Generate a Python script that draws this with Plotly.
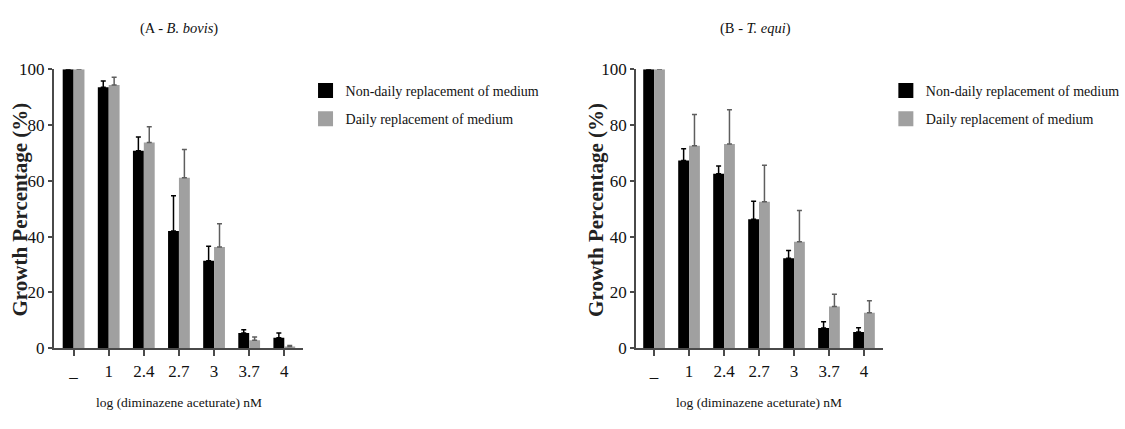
import plotly.graph_objects as go

W, H = 1125, 429

categories = ["_", "1", "2.4", "2.7", "3", "3.7", "4"]

# Panel A - B. bovis
a_nondaily = [100, 93.5, 70.8, 42.0, 31.4, 5.5, 3.8]
a_nondaily_err = [0, 2.3, 4.9, 12.7, 5.2, 1.1, 1.7]
a_daily = [100, 94.3, 73.7, 61.1, 36.3, 2.9, 0.6]
a_daily_err = [0, 2.8, 5.7, 10.1, 8.3, 1.1, 0.4]

# Panel B - T. equi
b_nondaily = [100, 67.3, 62.5, 46.2, 32.3, 7.3, 5.8]
b_nondaily_err = [0, 4.2, 2.8, 6.5, 2.7, 2.2, 1.6]
b_daily = [100, 72.6, 73.2, 52.5, 38.2, 15.0, 12.7]
b_daily_err = [0, 11.2, 12.3, 13.1, 11.2, 4.4, 4.3]

series_names = ["Non-daily replacement of medium", "Daily replacement of medium"]
colors = ["#000000", "#a0a0a0"]
err_colors = ["#000000", "#5e5e5e"]

FONT = "Liberation Serif"


def px_x(p):
    return p / W


def px_y(p):
    return 1 - p / H


fig = go.Figure()

panels = [
    ("x", "y", [a_nondaily, a_daily], [a_nondaily_err, a_daily_err]),
    ("x2", "y2", [b_nondaily, b_daily], [b_nondaily_err, b_daily_err]),
]
for xa, ya, vals, errs in panels:
    for k in range(2):
        fig.add_trace(go.Bar(
            x=categories, y=vals[k], xaxis=xa, yaxis=ya,
            marker=dict(color=colors[k], line=dict(width=0)),
            error_y=dict(type="data", symmetric=False, array=errs[k],
                         arrayminus=[0] * len(errs[k]),
                         color=err_colors[k], thickness=1.5, width=2.5),
            showlegend=False, name=series_names[k],
        ))

# legend entries (one legend per panel)
for leg in ["legend", "legend2"]:
    for k in range(2):
        fig.add_trace(go.Scatter(
            x=[None], y=[None], mode="markers", name=series_names[k],
            marker=dict(symbol="square", size=15, color=colors[k]),
            legend=leg, legendgroup=f"{leg}{k}", showlegend=True,
            xaxis="x", yaxis="y",
        ))

axis_common = dict(
    showline=True, linecolor="#4a4a4a", linewidth=1.5,
    ticks="outside", tickcolor="#4a4a4a", tickwidth=1.5,
    showgrid=False, zeroline=False,
    tickfont=dict(family=FONT, size=17, color="#111111"),
)

y_dom = [px_y(355), px_y(63)]
fig.update_layout(
    width=W, height=H,
    margin=dict(l=0, r=0, t=0, b=0),
    plot_bgcolor="white", paper_bgcolor="white",
    barmode="group", bargap=0.38, bargroupgap=0,
    xaxis=dict(domain=[px_x(54), px_x(305)], range=[-0.57, 6.52],
               anchor="y", ticklen=6, ticklabelstandoff=1, **axis_common),
    yaxis=dict(domain=y_dom, range=[0, 100], anchor="x",
               tickvals=[0, 20, 40, 60, 80, 100], ticklen=4, **axis_common),
    xaxis2=dict(domain=[px_x(641), px_x(890)], range=[-0.52, 6.54],
                anchor="y2", ticklen=6, ticklabelstandoff=1, **axis_common),
    yaxis2=dict(domain=y_dom, range=[0, 100], anchor="x2",
                tickvals=[0, 20, 40, 60, 80, 100], ticklen=4, **axis_common),
    legend=dict(x=px_x(308), y=px_y(69), xanchor="left", yanchor="top",
                font=dict(family=FONT, size=14, color="#111111"),
                tracegroupgap=7, bgcolor="rgba(0,0,0,0)"),
    legend2=dict(x=px_x(893), y=px_y(69), xanchor="left", yanchor="top",
                 font=dict(family=FONT, size=14, color="#111111"),
                 tracegroupgap=7, bgcolor="rgba(0,0,0,0)"),
)

annotations = [
    dict(text="(A - <i>B. bovis</i>)", x=px_x(180), y=px_y(20), size=14.5),
    dict(text="(B - <i>T. equi</i>)", x=px_x(762), y=px_y(20), size=14.5),
    dict(text="log (diminazene aceturate) nM", x=px_x(180), y=px_y(412), size=13.5),
    dict(text="log (diminazene aceturate) nM", x=px_x(765), y=px_y(412), size=13.5),
]
for a in annotations:
    size = a.pop("size")
    fig.add_annotation(xref="paper", yref="paper", showarrow=False,
                       xanchor="center", yanchor="middle",
                       font=dict(family=FONT, size=size, color="#111111"), **a)

for xc in [20, 601]:
    fig.add_annotation(text="<b>Growth Percentage (%)</b>", textangle=-90,
                       xref="paper", yref="paper", x=px_x(xc), y=px_y(210),
                       showarrow=False, xanchor="center", yanchor="middle",
                       font=dict(family=FONT, size=21, color="#222222"))

fig.write_html("out.html",
               post_script="document.body.style.margin='0';document.body.style.overflow='hidden';")
